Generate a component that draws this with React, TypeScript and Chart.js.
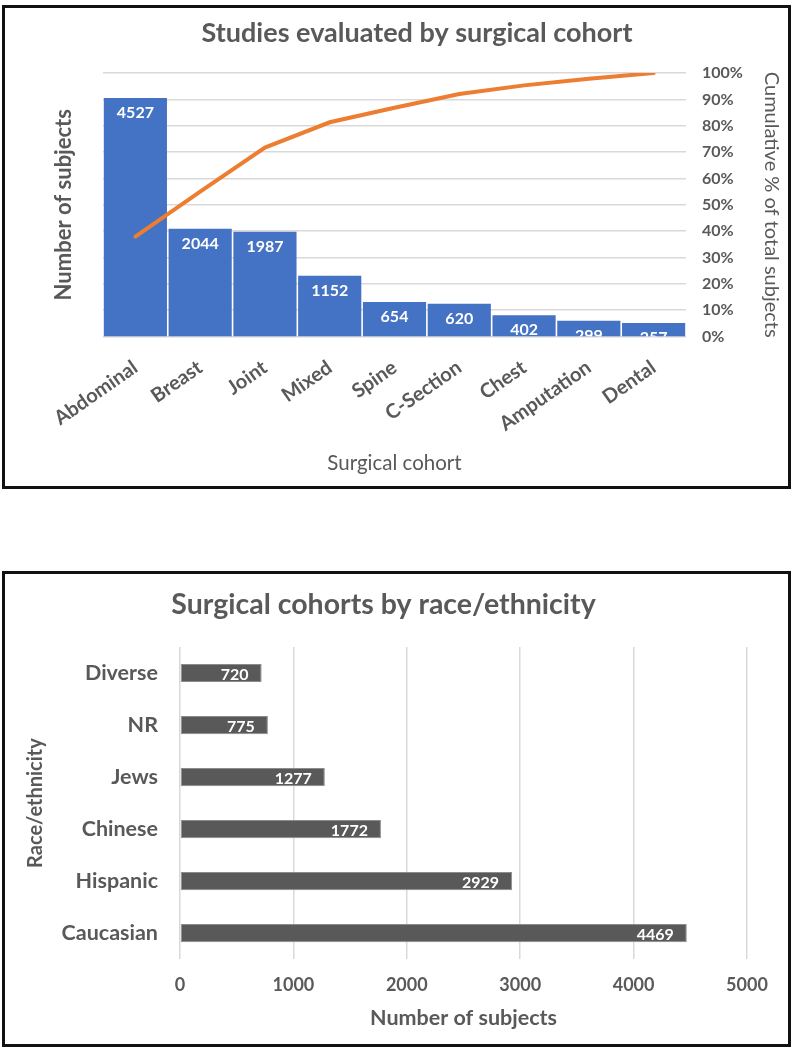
import React, { useEffect, useRef } from 'react';
import { Chart, registerables } from 'chart.js';

Chart.register(...registerables);

const cohorts = ['Abdominal', 'Breast', 'Joint', 'Mixed', 'Spine', 'C-Section', 'Chest', 'Amputation', 'Dental'];
const cohortSubjects = [4527, 2044, 1987, 1152, 654, 620, 402, 299, 257];
const cumulativePct = [37.9, 55.0, 71.7, 81.3, 86.8, 92.0, 95.3, 97.8, 100];

const races = ['Diverse', 'NR', 'Jews', 'Chinese', 'Hispanic', 'Caucasian'];
const raceSubjects = [720, 775, 1277, 1772, 2929, 4469];

const FONT = "Lato, 'Open Sans', sans-serif";
const GRAY = '#595959';
const GRID = '#d9d9d9';

const topLabelsPlugin = {
  id: 'topLabels',
  afterDatasetsDraw(chart: any) {
    const { ctx, chartArea } = chart;
    const idx = chart.data.datasets.findIndex((d: any) => d.type === 'bar');
    const meta = chart.getDatasetMeta(idx);
    ctx.save();
    ctx.beginPath();
    ctx.rect(chartArea.left, chartArea.top, chartArea.right - chartArea.left, chartArea.bottom - chartArea.top);
    ctx.clip();
    ctx.fillStyle = '#ffffff';
    ctx.font = `bold 16px ${FONT}`;
    ctx.textAlign = 'center';
    ctx.textBaseline = 'middle';
    meta.data.forEach((el: any, i: number) => {
      ctx.fillText(String(chart.data.datasets[idx].data[i]), el.x, el.y + 15);
    });
    ctx.restore();
  },
};

const barLabelsPlugin = {
  id: 'barLabels',
  afterDatasetsDraw(chart: any) {
    const { ctx } = chart;
    const meta = chart.getDatasetMeta(0);
    ctx.save();
    ctx.fillStyle = '#ffffff';
    ctx.font = `bold 16px ${FONT}`;
    ctx.textAlign = 'right';
    ctx.textBaseline = 'middle';
    meta.data.forEach((el: any, i: number) => {
      ctx.fillText(String(chart.data.datasets[0].data[i]), el.x - 13, el.y + 2);
    });
    ctx.restore();
  },
};

export default function App() {
  const topRef = useRef<HTMLCanvasElement>(null);
  const botRef = useRef<HTMLCanvasElement>(null);

  useEffect(() => {
    const c1 = new Chart(topRef.current as HTMLCanvasElement, {
      type: 'bar',
      data: {
        labels: cohorts,
        datasets: [
          {
            type: 'line',
            label: 'Cumulative %',
            data: cumulativePct,
            yAxisID: 'y1',
            borderColor: '#ED7D31',
            backgroundColor: '#ED7D31',
            borderWidth: 4,
            pointRadius: 0,
            tension: 0,
            borderCapStyle: 'round',
            order: 0,
          } as any,
          {
            type: 'bar',
            label: 'Number of subjects',
            data: cohortSubjects,
            yAxisID: 'y',
            backgroundColor: '#4472C4',
            barPercentage: 1,
            categoryPercentage: 0.975,
            order: 1,
          } as any,
        ],
      },
      options: {
        responsive: false,
        animation: false,
        devicePixelRatio: 1,
        layout: { padding: { left: 47, right: 6, top: 0, bottom: 12.7 } },
        plugins: {
          legend: { display: false },
          tooltip: { enabled: false },
          title: {
            display: true,
            text: 'Studies evaluated by surgical cohort',
            color: GRAY,
            font: { family: FONT, size: 27, weight: 'bold' },
            padding: { top: 16.8, bottom: 23.8 },
          },
        },
        scales: {
          x: {
            grid: { display: false },
            border: { display: false },
            ticks: {
              color: GRAY,
              font: { family: FONT, size: 20, weight: 'bold' },
              maxRotation: 35,
              minRotation: 35,
              autoSkip: false,
              padding: 11,
            },
            title: {
              display: true,
              text: 'Surgical cohort',
              color: GRAY,
              font: { family: FONT, size: 20.5 },
            },
            afterFit: (s: any) => { s.height = 142.8; },
          },
          y: {
            position: 'left',
            min: 0,
            max: 5000,
            grid: { display: false },
            border: { display: false },
            ticks: { display: false },
            title: {
              display: true,
              text: 'Number of subjects',
              color: GRAY,
              font: { family: FONT, size: 22, weight: 'bold' },
            },
            afterFit: (s: any) => { s.width = 56; },
          },
          y1: {
            position: 'right',
            min: 0,
            max: 100,
            grid: { color: GRID, drawTicks: false, lineWidth: 1.5 },
            border: { display: false },
            ticks: {
              stepSize: 10,
              color: GRAY,
              font: { family: FONT, size: 16, weight: 'bold' },
              padding: 16,
              callback: (v: any) => v + '%',
            },
            title: {
              display: true,
              text: 'Cumulative % of total subjects',
              color: GRAY,
              font: { family: FONT, size: 20 },
            },
            afterFit: (s: any) => { s.width = 101; },
          },
        },
      } as any,
      plugins: [topLabelsPlugin],
    });

    const c2 = new Chart(botRef.current as HTMLCanvasElement, {
      type: 'bar',
      data: {
        labels: races,
        datasets: [
          {
            label: 'Number of subjects',
            data: raceSubjects,
            backgroundColor: GRAY,
            borderColor: '#8c8c8c',
            borderWidth: 1,
            borderSkipped: false,
            barPercentage: 0.35,
            categoryPercentage: 1,
          } as any,
        ],
      },
      options: {
        indexAxis: 'y',
        responsive: false,
        animation: false,
        devicePixelRatio: 1,
        layout: { padding: { left: 20, right: 46, top: 0, bottom: 15 } },
        plugins: {
          legend: { display: false },
          tooltip: { enabled: false },
          title: {
            display: true,
            text: 'Surgical cohorts by race/ethnicity',
            color: GRAY,
            font: { family: FONT, size: 28.5, weight: 'bold' },
            padding: { top: 22.9, bottom: 24.9 },
          },
        },
        scales: {
          x: {
            min: 0,
            max: 5000,
            grid: { color: GRID, drawTicks: false, lineWidth: 1.5 },
            border: { display: false },
            ticks: {
              stepSize: 1000,
              color: GRAY,
              font: { family: FONT, size: 18, weight: 'bold' },
              padding: 15,
              callback: (v: any) => String(v),
            },
            title: {
              display: true,
              text: 'Number of subjects',
              color: GRAY,
              font: { family: FONT, size: 21.5, weight: 'bold' },
            },
            afterFit: (s: any) => { s.height = 75.9; },
          },
          y: {
            grid: { display: false, drawTicks: false },
            border: { display: false },
            ticks: {
              color: GRAY,
              font: { family: FONT, size: 21.5, weight: 'bold' },
              padding: 22,
            },
            title: {
              display: true,
              text: 'Race/ethnicity',
              color: GRAY,
              font: { family: FONT, size: 20, weight: 'bold' },
            },
            afterFit: (s: any) => { s.width = 160; },
          },
        },
      } as any,
      plugins: [barLabelsPlugin],
    });

    return () => {
      c1.destroy();
      c2.destroy();
    };
  }, []);

  const box = (top: number, bottom: number): React.CSSProperties => ({
    position: 'absolute',
    left: 2,
    top,
    width: 789,
    height: bottom - top,
    border: '3px solid #111',
    boxSizing: 'border-box',
    pointerEvents: 'none',
  });

  return (
    <div style={{ position: 'absolute', left: 0, top: 0, width: 793, height: 1050, background: '#fff' }}>
      <canvas ref={topRef} width={793} height={492} style={{ position: 'absolute', left: 0, top: 0, width: 793, height: 492 }} />
      <canvas ref={botRef} width={793} height={485} style={{ position: 'absolute', left: 0, top: 565, width: 793, height: 485 }} />
      <div style={box(5, 489)} />
      <div style={box(571, 1047)} />
    </div>
  );
}
